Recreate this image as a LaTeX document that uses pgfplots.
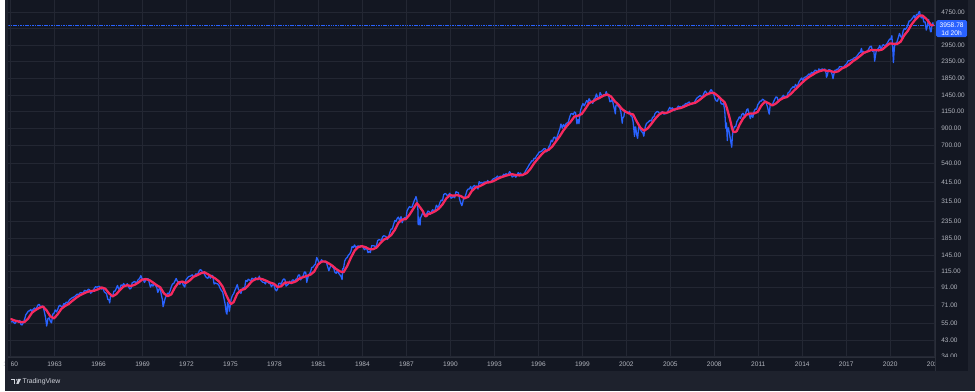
\documentclass[border=0pt]{standalone}
\usepackage{pgfplots}
\pgfplotsset{compat=1.18}
\usepackage{fontspec}
\setmainfont{Liberation Sans}
\definecolor{outerbg}{HTML}{1E222D}
\definecolor{panelbg}{HTML}{131722}
\definecolor{gridc}{HTML}{232733}
\definecolor{sepc}{HTML}{2A2E39}
\definecolor{tvblue}{HTML}{2962FF}
\definecolor{tvred}{HTML}{F7295F}
\definecolor{labelc}{HTML}{B2B5BE}
\definecolor{logoc}{HTML}{D1D4DC}
\begin{document}
\begin{tikzpicture}[x=1pt,y=1pt]
\fill[outerbg] (0,0) rectangle (975,393);
\fill[panelbg] (3,20) rectangle (968,393);
\begin{axis}[
  at={(3pt,34pt)}, anchor=south west,
  width=932pt, height=359pt, scale only axis,
  xmin=1959.84, xmax=2023.07,
  ymode=log, ymin=33.48, ymax=5632,
  axis line style={draw=none},
  major tick length=0pt,
  xtick={1960,1963,...,2023},
  xticklabels={1960,1963,1966,1969,1972,1975,1978,1981,1984,1987,1990,1993,1996,1999,2002,2005,2008,2011,2014,2017,2020,2023},
  ytick={34,43,55,71,91,115,145,185,235,315,415,540,700,900,1150,1450,1850,2350,2950,3750,4750},
  yticklabels={34.00,43.00,55.00,71.00,91.00,115.00,145.00,185.00,235.00,315.00,415.00,540.00,700.00,900.00,1150.00,1450.00,1850.00,2350.00,2950.00,{},4750.00},
  yticklabel pos=right,
  xmajorgrids, ymajorgrids,
  grid style={gridc, line width=0.6pt},
  xticklabel style={font=\fontsize{6.6}{7}\selectfont, text=labelc, anchor=center, yshift=-7pt},
  yticklabel style={font=\fontsize{6.5}{7}\selectfont, text=labelc, anchor=west, inner sep=0pt, xshift=6pt},
]
\addplot[tvblue, dash pattern=on 1.6pt off 0.8pt, line width=0.6pt] coordinates {(1959.84,3958.78)(2023.07,3958.78)};
\addplot[tvblue, line width=1.3pt, line join=round] coordinates {
(1960.04,55.6)(1960.13,56.1)(1960.21,55.3)(1960.29,54.4)(1960.38,55.8)(1960.46,56.9)(1960.54,55.5)(1960.63,56.9)(1960.71,53.5)(1960.79,53.4)(1960.88,55.5)(1960.96,58.1)
(1961.04,61.8)(1961.13,63.4)(1961.21,65.1)(1961.29,65.3)(1961.38,66.6)(1961.46,64.6)(1961.54,66.8)(1961.63,68.1)(1961.71,66.7)(1961.79,68.6)(1961.88,71.3)(1961.96,71.6)
(1962.04,68.8)(1962.13,69.9)(1962.21,69.6)(1962.29,65.2)(1962.38,59.6)(1962.46,52.5)(1962.50,54.8)(1962.54,58.2)(1962.63,59.1)(1962.71,56.3)(1962.79,55.0)(1962.88,62.3)(1962.96,63.1)
(1963.04,66.2)(1963.13,64.3)(1963.21,66.6)(1963.29,69.8)(1963.38,70.8)(1963.46,69.4)(1963.54,69.1)(1963.63,72.5)(1963.71,71.7)(1963.79,74.0)(1963.88,73.2)(1963.96,75.0)
(1964.04,77.0)(1964.13,77.8)(1964.21,79.0)(1964.29,79.5)(1964.38,80.4)(1964.46,81.7)(1964.54,83.2)(1964.63,81.8)(1964.71,84.2)(1964.79,84.9)(1964.88,84.4)(1964.96,84.8)
(1965.04,87.6)(1965.13,87.4)(1965.21,86.2)(1965.29,89.1)(1965.38,88.4)(1965.46,84.1)(1965.54,85.3)(1965.63,87.2)(1965.71,90.0)(1965.79,92.4)(1965.88,91.6)(1965.96,92.4)
(1966.04,92.9)(1966.13,91.2)(1966.21,89.2)(1966.29,91.1)(1966.38,86.1)(1966.46,84.7)(1966.54,83.6)(1966.63,77.1)(1966.71,76.6)(1966.76,73.2)(1966.81,80.2)(1966.88,80.5)(1966.96,80.3)
(1967.04,86.6)(1967.13,86.8)(1967.21,90.2)(1967.29,94.0)(1967.38,89.1)(1967.46,90.6)(1967.54,94.8)(1967.63,93.6)(1967.71,96.7)(1967.79,93.9)(1967.88,94.0)(1967.96,96.5)
(1968.04,92.2)(1968.13,89.4)(1968.21,90.2)(1968.29,97.6)(1968.38,98.7)(1968.46,99.6)(1968.54,97.7)(1968.63,98.9)(1968.71,102.7)(1968.79,103.4)(1968.88,108.4)(1968.96,103.9)
(1969.04,103.0)(1969.13,98.1)(1969.21,101.5)(1969.29,103.7)(1969.38,103.5)(1969.46,97.7)(1969.54,91.8)(1969.63,95.5)(1969.71,93.1)(1969.79,97.2)(1969.88,93.8)(1969.96,92.1)
(1970.04,85.0)(1970.13,89.5)(1970.21,89.6)(1970.29,81.5)(1970.36,76.6)(1970.40,69.3)(1970.46,72.7)(1970.54,78.1)(1970.63,81.5)(1970.71,84.2)(1970.79,83.3)(1970.88,87.2)(1970.96,92.2)
(1971.04,95.9)(1971.13,96.8)(1971.21,100.3)(1971.29,104.0)(1971.38,99.6)(1971.46,98.7)(1971.54,95.6)(1971.63,99.0)(1971.71,98.3)(1971.79,94.2)(1971.88,92.0)(1971.96,102.1)
(1972.04,103.9)(1972.13,106.6)(1972.21,107.2)(1972.29,107.7)(1972.38,109.5)(1972.46,107.1)(1972.54,107.4)(1972.63,111.1)(1972.71,110.6)(1972.79,111.6)(1972.88,116.7)(1972.96,118.1)
(1973.04,116.0)(1973.13,111.7)(1973.21,111.5)(1973.29,107.0)(1973.38,105.0)(1973.46,104.3)(1973.54,108.2)(1973.63,104.3)(1973.71,108.4)(1973.79,108.3)(1973.88,96.0)(1973.96,97.6)
(1974.04,96.6)(1974.13,96.2)(1974.21,94.0)(1974.29,90.3)(1974.38,87.3)(1974.46,86.0)(1974.54,79.3)(1974.63,72.2)(1974.71,63.5)(1974.76,62.3)(1974.80,73.9)(1974.88,70.0)(1974.92,65.0)(1974.96,68.6)
(1975.04,77.0)(1975.13,81.6)(1975.21,83.4)(1975.29,87.3)(1975.38,91.2)(1975.46,95.2)(1975.54,88.8)(1975.63,86.9)(1975.71,83.9)(1975.79,89.0)(1975.88,91.2)(1975.96,90.2)
(1976.04,100.9)(1976.13,99.7)(1976.21,102.8)(1976.29,101.6)(1976.38,100.2)(1976.46,104.3)(1976.54,103.4)(1976.63,102.9)(1976.71,105.2)(1976.79,102.9)(1976.88,102.1)(1976.96,107.5)
(1977.04,102.0)(1977.13,99.8)(1977.21,98.4)(1977.29,98.4)(1977.38,96.1)(1977.46,100.5)(1977.54,98.9)(1977.63,96.8)(1977.71,96.5)(1977.79,92.3)(1977.88,94.8)(1977.96,95.1)
(1978.04,89.3)(1978.13,87.0)(1978.21,89.2)(1978.29,96.8)(1978.38,97.2)(1978.46,95.5)(1978.54,100.7)(1978.63,103.3)(1978.71,102.5)(1978.79,93.2)(1978.88,94.7)(1978.96,96.1)
(1979.04,99.9)(1979.13,96.3)(1979.21,101.6)(1979.29,101.8)(1979.38,99.1)(1979.46,102.9)(1979.54,103.8)(1979.63,109.3)(1979.71,109.3)(1979.79,101.8)(1979.88,106.2)(1979.96,107.9)
(1980.04,114.2)(1980.13,113.7)(1980.20,98.2)(1980.24,102.1)(1980.29,106.3)(1980.38,111.2)(1980.46,114.2)(1980.54,121.7)(1980.63,122.4)(1980.71,125.5)(1980.79,127.5)(1980.88,140.5)(1980.96,135.8)
(1981.04,129.6)(1981.13,131.3)(1981.21,136.0)(1981.29,132.8)(1981.38,132.6)(1981.46,131.2)(1981.54,130.9)(1981.63,122.8)(1981.71,116.2)(1981.79,121.9)(1981.88,126.4)(1981.96,122.6)
(1982.04,120.4)(1982.13,113.1)(1982.21,112.0)(1982.29,116.4)(1982.38,111.9)(1982.46,109.6)(1982.54,107.1)(1982.61,102.4)(1982.65,119.5)(1982.71,120.4)(1982.79,133.7)(1982.88,138.5)(1982.96,140.6)
(1983.04,145.3)(1983.13,148.1)(1983.21,153.0)(1983.29,164.4)(1983.38,162.4)(1983.46,168.1)(1983.54,162.6)(1983.63,164.4)(1983.71,166.1)(1983.79,163.6)(1983.88,166.4)(1983.96,164.9)
(1984.04,163.4)(1984.13,157.1)(1984.21,159.2)(1984.29,160.1)(1984.38,150.6)(1984.46,153.2)(1984.54,150.7)(1984.63,166.7)(1984.71,166.1)(1984.79,166.1)(1984.88,163.6)(1984.96,167.2)
(1985.04,179.6)(1985.13,181.2)(1985.21,180.7)(1985.29,179.8)(1985.38,189.6)(1985.46,191.9)(1985.54,190.9)(1985.63,188.6)(1985.71,182.1)(1985.79,189.8)(1985.88,202.2)(1985.96,211.3)
(1986.04,211.8)(1986.13,226.9)(1986.21,238.9)(1986.29,235.5)(1986.38,247.4)(1986.46,250.8)(1986.54,236.1)(1986.63,252.9)(1986.71,231.3)(1986.79,244.0)(1986.88,249.2)(1986.96,242.2)
(1987.04,274.1)(1987.13,284.2)(1987.21,291.7)(1987.29,288.4)(1987.38,290.1)(1987.46,304.0)(1987.54,318.7)(1987.62,329.8)(1987.65,336.8)(1987.71,321.8)(1987.78,282.7)(1987.80,224.8)(1987.83,251.8)(1987.88,230.3)(1987.93,223.9)(1987.96,247.1)
(1988.04,257.1)(1988.13,267.8)(1988.21,258.9)(1988.29,261.3)(1988.38,262.2)(1988.46,273.5)(1988.54,272.0)(1988.63,261.5)(1988.71,271.9)(1988.79,279.0)(1988.88,273.7)(1988.96,277.7)
(1989.04,297.5)(1989.13,288.9)(1989.21,294.9)(1989.29,309.6)(1989.38,320.5)(1989.46,318.0)(1989.54,346.1)(1989.63,351.5)(1989.71,349.2)(1989.79,340.4)(1989.88,346.0)(1989.96,353.4)
(1990.04,329.1)(1990.13,331.9)(1990.21,339.9)(1990.29,330.8)(1990.38,361.2)(1990.46,358.0)(1990.54,356.2)(1990.63,322.6)(1990.71,306.1)(1990.78,295.5)(1990.82,304.0)(1990.88,322.2)(1990.96,330.2)
(1991.04,343.9)(1991.13,367.1)(1991.21,375.2)(1991.29,375.3)(1991.38,389.8)(1991.46,371.2)(1991.54,387.8)(1991.63,395.4)(1991.71,387.9)(1991.79,392.5)(1991.88,375.2)(1991.96,417.1)
(1992.04,408.8)(1992.13,412.7)(1992.21,403.7)(1992.29,415.0)(1992.38,415.4)(1992.46,408.1)(1992.54,424.2)(1992.63,414.0)(1992.71,417.8)(1992.79,418.7)(1992.88,431.4)(1992.96,435.7)
(1993.04,438.8)(1993.13,443.4)(1993.21,451.7)(1993.29,440.2)(1993.38,450.2)(1993.46,450.5)(1993.54,448.1)(1993.63,463.6)(1993.71,458.9)(1993.79,467.8)(1993.88,461.8)(1993.96,466.5)
(1994.04,481.6)(1994.13,467.1)(1994.21,445.8)(1994.29,450.9)(1994.38,456.5)(1994.46,444.3)(1994.54,458.3)(1994.63,475.5)(1994.71,462.7)(1994.79,472.4)(1994.88,453.7)(1994.96,459.3)
(1995.04,470.4)(1995.13,487.4)(1995.21,500.7)(1995.29,514.7)(1995.38,533.4)(1995.46,544.8)(1995.54,562.1)(1995.63,561.9)(1995.71,584.4)(1995.79,581.5)(1995.88,605.4)(1995.96,615.9)
(1996.04,636.0)(1996.13,640.4)(1996.21,645.5)(1996.29,654.2)(1996.38,669.1)(1996.46,670.6)(1996.54,640.0)(1996.63,652.0)(1996.71,687.3)(1996.79,705.3)(1996.88,757.0)(1996.96,740.7)
(1997.04,786.2)(1997.13,790.8)(1997.21,757.1)(1997.29,801.3)(1997.38,848.3)(1997.46,885.1)(1997.54,954.3)(1997.63,899.5)(1997.71,947.3)(1997.79,914.6)(1997.88,955.4)(1997.96,970.4)
(1998.04,980.3)(1998.13,1049.3)(1998.21,1101.8)(1998.29,1111.8)(1998.38,1090.8)(1998.46,1133.8)(1998.54,1120.7)(1998.63,957.3)(1998.71,1017.0)(1998.77,959.4)(1998.83,1098.7)(1998.88,1163.6)(1998.96,1229.2)
(1999.04,1279.6)(1999.13,1238.3)(1999.21,1286.4)(1999.29,1335.2)(1999.38,1301.8)(1999.46,1372.7)(1999.54,1328.7)(1999.63,1320.4)(1999.71,1282.7)(1999.79,1362.9)(1999.88,1388.9)(1999.96,1469.3)
(2000.04,1394.5)(2000.13,1366.4)(2000.21,1498.6)(2000.29,1452.4)(2000.38,1420.6)(2000.46,1454.6)(2000.54,1430.8)(2000.63,1517.7)(2000.71,1436.5)(2000.79,1429.4)(2000.88,1315.0)(2000.96,1320.3)
(2001.04,1366.0)(2001.13,1239.9)(2001.21,1160.3)(2001.25,1103.3)(2001.29,1249.5)(2001.38,1255.8)(2001.46,1224.4)(2001.54,1211.2)(2001.63,1133.6)(2001.72,965.8)(2001.75,1040.9)(2001.83,1059.8)(2001.88,1139.5)(2001.96,1148.1)
(2002.04,1130.2)(2002.13,1106.7)(2002.21,1147.4)(2002.29,1076.9)(2002.38,1067.1)(2002.46,989.8)(2002.56,797.7)(2002.58,911.6)(2002.63,916.1)(2002.71,815.3)(2002.77,776.8)(2002.83,885.8)(2002.88,936.3)(2002.96,879.8)
(2003.04,855.7)(2003.13,841.2)(2003.19,800.7)(2003.23,848.2)(2003.29,916.9)(2003.38,963.6)(2003.46,974.5)(2003.54,990.3)(2003.63,1008.0)(2003.71,996.0)(2003.79,1050.7)(2003.88,1058.2)(2003.96,1111.9)
(2004.04,1131.1)(2004.13,1144.9)(2004.21,1126.2)(2004.29,1107.3)(2004.38,1120.7)(2004.46,1140.8)(2004.54,1101.7)(2004.63,1104.2)(2004.71,1114.6)(2004.79,1130.2)(2004.88,1173.8)(2004.96,1211.9)
(2005.04,1181.3)(2005.13,1203.6)(2005.21,1180.6)(2005.29,1156.9)(2005.38,1191.5)(2005.46,1191.3)(2005.54,1234.2)(2005.63,1220.3)(2005.71,1228.8)(2005.79,1207.0)(2005.88,1249.5)(2005.96,1248.3)
(2006.04,1280.1)(2006.13,1280.7)(2006.21,1294.9)(2006.29,1310.6)(2006.38,1270.1)(2006.46,1270.2)(2006.54,1276.7)(2006.63,1303.8)(2006.71,1335.9)(2006.79,1377.9)(2006.88,1400.6)(2006.96,1418.3)
(2007.04,1438.2)(2007.13,1406.8)(2007.21,1420.9)(2007.29,1482.4)(2007.38,1530.6)(2007.46,1503.4)(2007.54,1455.3)(2007.63,1474.0)(2007.71,1526.8)(2007.77,1561.8)(2007.83,1549.4)(2007.88,1481.1)(2007.96,1468.4)
(2008.04,1378.6)(2008.13,1330.6)(2008.21,1322.7)(2008.29,1385.6)(2008.38,1400.4)(2008.46,1280.0)(2008.54,1267.4)(2008.63,1282.8)(2008.71,1166.4)(2008.78,899.2)(2008.83,968.8)(2008.89,752.4)(2008.91,896.2)(2008.96,903.3)
(2009.04,825.9)(2009.13,735.1)(2009.19,683.4)(2009.23,797.9)(2009.29,872.8)(2009.38,919.1)(2009.46,919.3)(2009.54,987.5)(2009.63,1020.6)(2009.71,1057.1)(2009.79,1036.2)(2009.88,1095.6)(2009.96,1115.1)
(2010.04,1073.9)(2010.13,1104.5)(2010.21,1169.4)(2010.29,1186.7)(2010.38,1089.4)(2010.46,1030.7)(2010.54,1101.6)(2010.63,1049.3)(2010.71,1141.2)(2010.79,1183.3)(2010.88,1180.6)(2010.96,1257.6)
(2011.04,1286.1)(2011.13,1327.2)(2011.21,1325.8)(2011.29,1363.6)(2011.38,1345.2)(2011.46,1320.6)(2011.54,1292.3)(2011.63,1218.9)(2011.71,1131.4)(2011.75,1099.2)(2011.81,1253.3)(2011.88,1247.0)(2011.96,1257.6)
(2012.04,1312.4)(2012.13,1365.7)(2012.21,1408.5)(2012.29,1397.9)(2012.38,1310.3)(2012.46,1362.2)(2012.54,1379.3)(2012.63,1406.6)(2012.71,1440.7)(2012.79,1412.2)(2012.88,1416.2)(2012.96,1426.2)
(2013.04,1498.1)(2013.13,1514.7)(2013.21,1569.2)(2013.29,1597.6)(2013.38,1630.7)(2013.46,1606.3)(2013.54,1685.7)(2013.63,1633.0)(2013.71,1681.6)(2013.79,1756.5)(2013.88,1805.8)(2013.96,1848.4)
(2014.04,1782.6)(2014.13,1859.5)(2014.21,1872.3)(2014.29,1884.0)(2014.38,1923.6)(2014.46,1960.2)(2014.54,1930.7)(2014.63,2003.4)(2014.71,1972.3)(2014.79,2018.1)(2014.88,2067.6)(2014.96,2058.9)
(2015.04,1995.0)(2015.13,2104.5)(2015.21,2067.9)(2015.29,2085.5)(2015.38,2107.4)(2015.46,2063.1)(2015.54,2103.8)(2015.63,1972.2)(2015.65,1867.6)(2015.71,1920.0)(2015.79,2079.4)(2015.88,2080.4)(2015.96,2043.9)
(2016.04,1940.2)(2016.10,1829.1)(2016.15,1932.2)(2016.21,2059.7)(2016.29,2065.3)(2016.38,2097.0)(2016.46,2098.9)(2016.54,2173.6)(2016.63,2171.0)(2016.71,2168.3)(2016.79,2126.2)(2016.88,2198.8)(2016.96,2238.8)
(2017.04,2278.9)(2017.13,2363.6)(2017.21,2362.7)(2017.29,2384.2)(2017.38,2411.8)(2017.46,2423.4)(2017.54,2470.3)(2017.63,2471.7)(2017.71,2519.4)(2017.79,2575.3)(2017.88,2647.6)(2017.96,2673.6)
(2018.04,2823.8)(2018.10,2581.0)(2018.15,2713.8)(2018.21,2640.9)(2018.29,2648.1)(2018.38,2705.3)(2018.46,2718.4)(2018.54,2816.3)(2018.63,2901.5)(2018.71,2914.0)(2018.79,2711.7)(2018.88,2760.2)(2018.94,2351.1)(2018.98,2506.9)
(2019.04,2704.1)(2019.13,2784.5)(2019.21,2834.4)(2019.29,2945.8)(2019.38,2752.1)(2019.46,2941.8)(2019.54,2980.4)(2019.63,2926.5)(2019.71,2976.7)(2019.79,3037.6)(2019.88,3141.0)(2019.96,3230.8)
(2020.04,3225.5)(2020.11,3386.2)(2020.16,2954.2)(2020.22,2304.9)(2020.25,2584.6)(2020.29,2912.4)(2020.38,3044.3)(2020.46,3100.3)(2020.54,3271.1)(2020.63,3500.3)(2020.71,3363.0)(2020.79,3270.0)(2020.88,3621.6)(2020.96,3756.1)
(2021.04,3714.2)(2021.13,3811.2)(2021.21,3972.9)(2021.29,4181.2)(2021.38,4204.1)(2021.46,4297.5)(2021.54,4395.3)(2021.63,4522.7)(2021.71,4307.5)(2021.79,4605.4)(2021.88,4567.0)(2021.96,4766.2)
(2022.01,4796.6)(2022.04,4515.6)(2022.13,4373.9)(2022.21,4530.4)(2022.29,4131.9)(2022.38,4132.2)(2022.46,3674.8)(2022.50,3785.4)(2022.58,4130.3)(2022.62,4280.2)(2022.66,3955.0)(2022.75,3585.6)(2022.79,3583.1)(2022.83,3872.0)(2022.88,4026.1)(2022.91,4080.1)(2022.93,3958.8)
};
\addplot[tvred, line width=2.3pt, line join=round, line cap=round] coordinates {
(1960.04,58.0)(1960.21,57.1)(1960.46,56.3)(1960.71,55.5)(1960.96,55.7)
(1961.21,58.7)(1961.46,63.6)(1961.71,66.2)(1961.96,68.2)
(1962.21,69.5)(1962.46,65.6)(1962.71,60.4)(1962.96,58.6)
(1963.21,62.2)(1963.46,67.2)(1963.71,70.0)(1963.96,72.1)
(1964.21,75.4)(1964.46,78.6)(1964.71,81.4)(1964.96,83.6)
(1965.21,85.6)(1965.46,86.8)(1965.71,87.2)(1965.96,89.0)
(1966.21,91.4)(1966.46,89.7)(1966.71,84.1)(1966.96,80.4)
(1967.21,83.0)(1967.46,88.2)(1967.71,92.7)(1967.96,94.3)
(1968.21,93.3)(1968.46,94.9)(1968.71,97.9)(1968.96,102.1)
(1969.21,103.0)(1969.46,101.6)(1969.71,98.1)(1969.96,94.5)
(1970.21,91.5)(1970.46,83.9)(1970.71,80.6)(1970.96,82.7)
(1971.21,91.4)(1971.46,98.2)(1971.71,99.4)(1971.96,97.4)
(1972.21,100.9)(1972.46,106.3)(1972.71,108.7)(1972.96,111.8)
(1973.21,113.7)(1973.46,110.5)(1973.71,107.0)(1973.96,103.9)
(1974.21,99.6)(1974.46,92.6)(1974.71,81.8)(1974.96,73.4)
(1975.04,72.1)(1975.21,74.0)(1975.46,83.5)(1975.71,88.1)(1975.96,89.3)
(1976.21,94.0)(1976.46,100.0)(1976.71,102.9)(1976.96,104.0)
(1977.21,102.6)(1977.46,100.4)(1977.71,97.9)(1977.96,96.4)
(1978.21,92.0)(1978.46,92.9)(1978.71,97.9)(1978.96,98.0)
(1979.21,97.8)(1979.46,99.7)(1979.71,104.0)(1979.96,105.9)
(1980.21,107.9)(1980.46,109.9)(1980.71,114.8)(1980.96,126.8)
(1981.21,132.3)(1981.46,132.8)(1981.71,128.9)(1981.96,124.6)
(1982.21,118.9)(1982.46,115.1)(1982.71,113.8)(1982.96,124.2)
(1983.21,139.9)(1983.46,154.6)(1983.71,163.0)(1983.96,165.2)
(1984.21,163.0)(1984.46,158.4)(1984.71,158.1)(1984.96,161.9)
(1985.21,172.1)(1985.46,181.4)(1985.71,186.2)(1985.96,193.8)
(1986.21,209.0)(1986.46,231.8)(1986.71,241.8)(1986.96,243.8)
(1987.21,259.5)(1987.46,282.1)(1987.71,306.4)(1987.79,300.7)(1987.88,292.4)(1987.96,286.2)
(1988.04,279.5)(1988.13,272.2)(1988.21,262.1)(1988.29,253.5)(1988.38,255.0)(1988.46,261.1)(1988.71,265.9)(1988.96,272.8)
(1989.21,283.4)(1989.46,301.0)(1989.71,327.1)(1989.96,343.5)
(1990.21,341.4)(1990.46,343.5)(1990.71,339.3)(1990.96,328.5)
(1991.21,335.5)(1991.46,364.7)(1991.71,383.2)(1991.96,389.6)
(1992.21,399.7)(1992.46,411.5)(1992.71,414.0)(1992.96,421.4)
(1993.21,433.9)(1993.46,444.4)(1993.71,451.9)(1993.96,459.6)
(1994.21,464.2)(1994.46,459.0)(1994.71,456.3)(1994.96,460.9)
(1995.21,472.4)(1995.46,501.5)(1995.71,543.1)(1995.96,579.4)
(1996.21,615.6)(1996.46,647.4)(1996.71,659.8)(1996.96,693.3)
(1997.21,746.3)(1997.46,801.4)(1997.71,870.4)(1997.96,932.4)
(1998.21,988.4)(1998.46,1062.6)(1998.71,1076.2)(1998.96,1102.9)
(1999.21,1187.5)(1999.46,1291.9)(1999.71,1318.3)(1999.96,1360.8)
(2000.21,1394.8)(2000.46,1436.6)(2000.71,1458.7)(2000.96,1414.9)
(2001.21,1323.9)(2001.46,1259.5)(2001.71,1182.2)(2001.96,1136.8)
(2002.21,1110.4)(2002.46,1095.2)(2002.71,989.2)(2002.96,905.0)
(2003.21,866.0)(2003.46,897.1)(2003.71,956.8)(2003.96,1027.1)
(2004.21,1088.4)(2004.46,1126.1)(2004.71,1116.5)(2004.96,1139.6)
(2005.21,1170.9)(2005.46,1188.2)(2005.71,1200.5)(2005.96,1225.6)
(2006.21,1255.6)(2006.46,1279.3)(2006.71,1294.6)(2006.96,1340.5)
(2007.21,1399.8)(2007.46,1457.2)(2007.71,1484.8)(2007.96,1494.1)
(2008.21,1436.8)(2008.46,1366.6)(2008.71,1300.8)(2008.79,1250.2)(2008.88,1180.3)(2008.96,1109.3)
(2009.04,1044.4)(2009.13,968.4)(2009.21,899.1)(2009.29,857.0)(2009.38,850.0)(2009.46,853.0)(2009.54,865.4)(2009.71,939.2)(2009.96,1033.1)
(2010.21,1093.1)(2010.46,1110.0)(2010.71,1109.8)(2010.96,1134.9)
(2011.21,1243.1)(2011.46,1318.0)(2011.71,1285.4)(2011.96,1245.9)
(2012.21,1282.3)(2012.46,1344.9)(2012.71,1386.5)(2012.96,1406.2)
(2013.21,1468.2)(2013.46,1549.0)(2013.71,1629.2)(2013.96,1716.8)
(2014.21,1801.0)(2014.46,1875.8)(2014.71,1935.2)(2014.96,2001.6)
(2015.21,2040.6)(2015.46,2068.9)(2015.71,2045.7)(2015.96,2037.5)
(2016.21,2008.0)(2016.46,2033.9)(2016.71,2119.1)(2016.96,2167.9)
(2017.21,2248.2)(2017.46,2351.9)(2017.71,2434.8)(2017.96,2540.2)
(2018.21,2656.3)(2018.46,2703.4)(2018.71,2763.5)(2018.96,2761.3)
(2019.21,2745.1)(2019.46,2781.4)(2019.71,2908.2)(2019.96,3033.5)
(2020.21,3021.5)(2020.46,3007.4)(2020.71,3110.9)(2020.96,3411.8)
(2021.21,3644.1)(2021.46,3991.0)(2021.71,4268.7)(2021.96,4494.5)
(2022.04,4525.7)(2022.21,4523.7)(2022.46,4319.4)(2022.71,4035.8)(2022.79,3941.8)(2022.88,3934.4)(2022.93,3940.0)
};
\end{axis}
% clip the time-axis labels at the panel edges
\fill[outerbg] (0,20) rectangle (3,393);
\fill[panelbg] (3,20) rectangle (5.4,34);
\fill[panelbg] (935,20) rectangle (968,34);
\draw[sepc, line width=0.7pt] (935,20) -- (935,393);
\draw[sepc, line width=0.5pt] (3,34) -- (935,34);
% last price label
\fill[tvblue, rounded corners=1.5pt] (936,356) rectangle (967,373);
\node[text=white, inner sep=0pt, font=\fontsize{6.7}{7}\selectfont] at (951.5,368.4) {3958.78};
\node[text=white, inner sep=0pt, font=\fontsize{6.7}{7}\selectfont] at (951.5,360.4) {1d 20h};
% logo
\fill[logoc] (5.7,10.8) rectangle (10.2,12.3);
\fill[logoc] (8.6,7.3) rectangle (10.2,12.3);
\fill[logoc] (11.6,11.5) circle (0.8);
\fill[logoc] (13.0,12.3) -- (15.7,12.3) -- (13.3,7.3) -- (11.0,7.3) -- cycle;
\node[text=logoc, anchor=west, inner sep=0pt, font=\fontsize{6.9}{8}\selectfont] at (17.2,9.8) {TradingView};
\end{tikzpicture}
\end{document}
